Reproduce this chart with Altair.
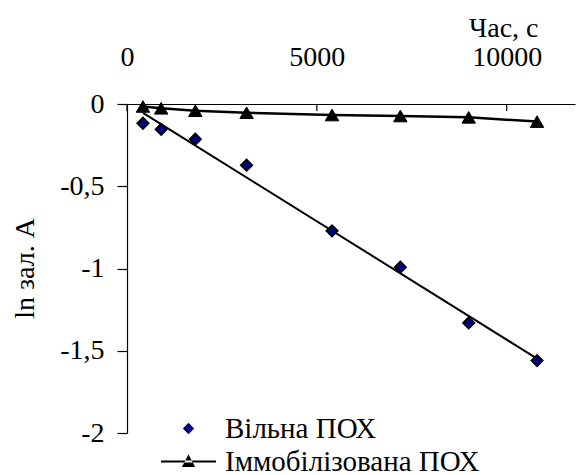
import altair as alt
import pandas as pd

# ---- data ----
TIME = [420, 900, 1800, 3150, 5400, 7200, 9000, 10800]          # s
FREE = [-0.117, -0.154, -0.214, -0.372, -0.771, -0.992, -1.331, -1.560]
IMMOB = [-0.015, -0.026, -0.041, -0.053, -0.067, -0.073, -0.081, -0.107]
FREE_LABEL = "Вільна ПОХ"
IMMOB_LABEL = "Іммобілізована ПОХ"
SERIES = [FREE_LABEL, IMMOB_LABEL]
X_TICKS = [0, 5000, 10000]
Y_TICKS = [0, -0.5, -1, -1.5, -2]
X_TITLE = "Час, с"
Y_TITLE = "ln зал. A"

FONT = "Liberation Serif"
FS = 28
LFS = 29

rows = []
for t, v in zip(TIME, FREE):
    rows.append({"t": t, "v": v, "s": FREE_LABEL})
for t, v in zip(TIME, IMMOB):
    rows.append({"t": t, "v": v, "s": IMMOB_LABEL})
df = pd.DataFrame(rows)
ticks_df = pd.DataFrame({"t": X_TICKS})

xscale = alt.Scale(domain=[0, 11800], nice=False)
yscale = alt.Scale(domain=[-2, 0], nice=False)

x_axis = alt.Axis(
    orient="top", values=X_TICKS, title=X_TITLE, grid=False, ticks=False, tickSize=0,
    labelFlush=False, labelOverlap=False, labelBaseline="alphabetic", labelPadding=39,
    labelExpr="toString(datum.value)", labelFont=FONT, labelFontSize=FS,
    titleX=411, titleY=-68, titleAlign="right", titleBaseline="alphabetic",
)
y_axis = alt.Axis(
    values=Y_TICKS, title=Y_TITLE, grid=False, tickSize=10,
    labelPadding=13, labelExpr="replace(toString(datum.value), '.', ',')",
    labelFont=FONT, labelFontSize=FS,
    titleX=-94, titleY=164, titleAngle=270, titleAlign="center", titleBaseline="alphabetic",
)

# legend symbol for the connected series: a line with a triangle on it
LEG_PATH = "M-2.75,-0.11H2.75V0.11H-2.75ZM0,-0.72L-0.66,0.55L0.66,0.55Z"

legend = alt.Legend(
    orient="none", legendX=47, legendY=310, title=None, padding=0,
    symbolStrokeColor="black", symbolOpacity=1, labelOffset=22, rowPadding=3,
    labelLimit=500, labelFont=FONT, labelFontSize=LFS, labelColor="black",
)

base = alt.Chart(df)

trend = base.transform_filter(alt.datum.s == FREE_LABEL).transform_regression(
    "t", "v"
).mark_line(color="black", strokeWidth=2).encode(
    x=alt.X("t:Q", scale=xscale, axis=x_axis),
    y=alt.Y("v:Q", scale=yscale, axis=y_axis),
)

immob_line = base.transform_filter(alt.datum.s == IMMOB_LABEL).mark_line(
    color="black", strokeWidth=2.5
).encode(
    x=alt.X("t:Q", scale=xscale),
    y=alt.Y("v:Q", scale=yscale),
)

xticks = alt.Chart(ticks_df).mark_rule(color="black", strokeWidth=1.2).encode(
    x=alt.X("t:Q", scale=xscale),
    y=alt.value(0),
    y2=alt.value(7),
)

immob_points = base.transform_filter(alt.datum.s == IMMOB_LABEL).mark_point(
    filled=True, shape="triangle-up", fill="black", stroke="black", strokeWidth=1,
    size=180, opacity=1
).encode(
    x=alt.X("t:Q", scale=xscale),
    y=alt.Y("v:Q", scale=yscale),
)

free_points = base.transform_filter(alt.datum.s == FREE_LABEL).mark_point(
    filled=True, stroke="black", opacity=1
).encode(
    x=alt.X("t:Q", scale=xscale),
    y=alt.Y("v:Q", scale=yscale),
    shape=alt.Shape("s:N", scale=alt.Scale(domain=SERIES, range=["diamond", LEG_PATH]),
                    legend=legend),
    fill=alt.Fill("s:N", scale=alt.Scale(domain=SERIES, range=["#000080", "black"]),
                  legend=legend),
    size=alt.Size("s:N", scale=alt.Scale(domain=SERIES, range=[130, 400]), legend=legend),
    strokeWidth=alt.StrokeWidth("s:N", scale=alt.Scale(domain=SERIES, range=[1.7, 0.5]),
                                legend=legend),
)

chart = alt.layer(trend, immob_line, xticks, immob_points, free_points).properties(
    width=448, height=329,
    padding={"left": 127, "top": 104, "right": 2, "bottom": 42},
    autosize=alt.AutoSizeParams(type="none"),
    background="white",
).configure(
    font=FONT,
    style={"guide-label": {"font": FONT, "fontSize": FS, "fill": "black"},
           "guide-title": {"font": FONT, "fontSize": FS, "fill": "black"}},
).configure_view(stroke=None).configure_axis(
    labelFont=FONT, labelFontSize=FS, labelColor="black",
    titleFont=FONT, titleFontSize=FS, titleFontWeight="normal", titleColor="black",
    domainColor="black", domainWidth=1.2, tickColor="black", tickWidth=1.2,
).configure_legend(
    labelFont=FONT, labelFontSize=LFS, labelColor="black",
)

chart.save("out.html", embed_options={"renderer": "svg", "actions": False})
